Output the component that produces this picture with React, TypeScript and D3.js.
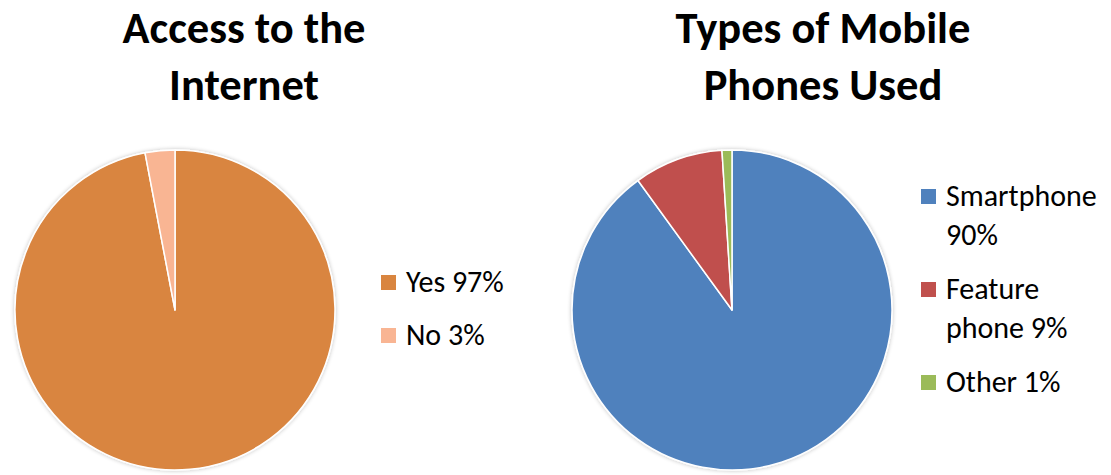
import React, { useEffect, useRef } from 'react';
import * as d3 from 'd3';

const accessLabels = ['Yes 97%', 'No 3%'];
const accessValues = [97, 3];
const accessColors = ['#D9853F', '#F9B593'];

const phoneLabels = [['Smartphone', '90%'], ['Feature', 'phone 9%'], ['Other 1%']];
const phoneValues = [90, 9, 1];
const phoneColors = ['#4F81BD', '#C0504D', '#9BBB59'];

const FONT = 'Carlito, Calibri, Lato, sans-serif';

interface PieSpec {
  title: string[];
  titleX: number;
  cx: number;
  values: number[];
  colors: string[];
  legend: string[][];
  legendX: number;
  legendY: number[];
}

const App: React.FC = () => {
  const ref = useRef<SVGSVGElement>(null);

  useEffect(() => {
    if (!ref.current) return;
    const svg = d3.select(ref.current);
    svg.selectAll('*').remove();

    const defs = svg.append('defs');
    const f = defs.append('filter').attr('id', 'shadow').attr('x', '-10%').attr('y', '-10%').attr('width', '120%').attr('height', '120%');
    f.append('feGaussianBlur').attr('in', 'SourceAlpha').attr('stdDeviation', 2).attr('result', 'b');
    f.append('feComponentTransfer').attr('in', 'b').attr('result', 'c')
      .append('feFuncA').attr('type', 'linear').attr('slope', 0.25);
    const m = f.append('feMerge');
    m.append('feMergeNode').attr('in', 'c');
    m.append('feMergeNode').attr('in', 'SourceGraphic');

    const specs: PieSpec[] = [
      {
        title: ['Access to the', 'Internet'], titleX: 244, cx: 175,
        values: accessValues, colors: accessColors,
        legend: accessLabels.map((l) => [l]), legendX: 381, legendY: [292, 345],
      },
      {
        title: ['Types of Mobile', 'Phones Used'], titleX: 823, cx: 732,
        values: phoneValues, colors: phoneColors,
        legend: phoneLabels, legendX: 921, legendY: [206, 299, 392],
      },
    ];

    const r = 160;
    const cy = 310;

    specs.forEach((s) => {
      // Title
      const t = svg.append('text')
        .attr('text-anchor', 'middle')
        .attr('font-family', FONT)
        .attr('font-weight', 700)
        .attr('font-size', '44.5px')
        .attr('fill', '#000');
      s.title.forEach((line, i) => {
        t.append('tspan').attr('x', s.titleX).attr('y', 43 + i * 57).text(line);
      });

      const pie = d3.pie<number>().sort(null).value((d) => d);
      const arc = d3.arc<d3.PieArcDatum<number>>().innerRadius(0).outerRadius(r);
      const g = svg.append('g')
        .attr('transform', `translate(${s.cx},${cy})`)
        .attr('filter', 'url(#shadow)');
      g.selectAll('path')
        .data(pie(s.values))
        .join('path')
        .attr('d', arc)
        .attr('fill', (_, i) => s.colors[i])
        .attr('stroke', '#fff')
        .attr('stroke-width', 1.5)
        .attr('stroke-linejoin', 'round');

      // Legend
      s.legend.forEach((lines, i) => {
        const y = s.legendY[i];
        svg.append('rect')
          .attr('x', s.legendX).attr('y', y - 17)
          .attr('width', 15).attr('height', 15)
          .attr('fill', s.colors[i]);
        const lt = svg.append('text')
          .attr('font-family', FONT)
          .attr('font-size', '30px')
          .attr('fill', '#000');
        lines.forEach((line, j) => {
          lt.append('tspan').attr('x', s.legendX + 25).attr('y', y + j * 39).text(line);
        });
      });
    });
  }, []);

  return (
    <svg
      ref={ref}
      width={1111}
      height={475}
      style={{ position: 'absolute', left: 0, top: 0, background: '#fff' }}
    />
  );
};

export default App;
